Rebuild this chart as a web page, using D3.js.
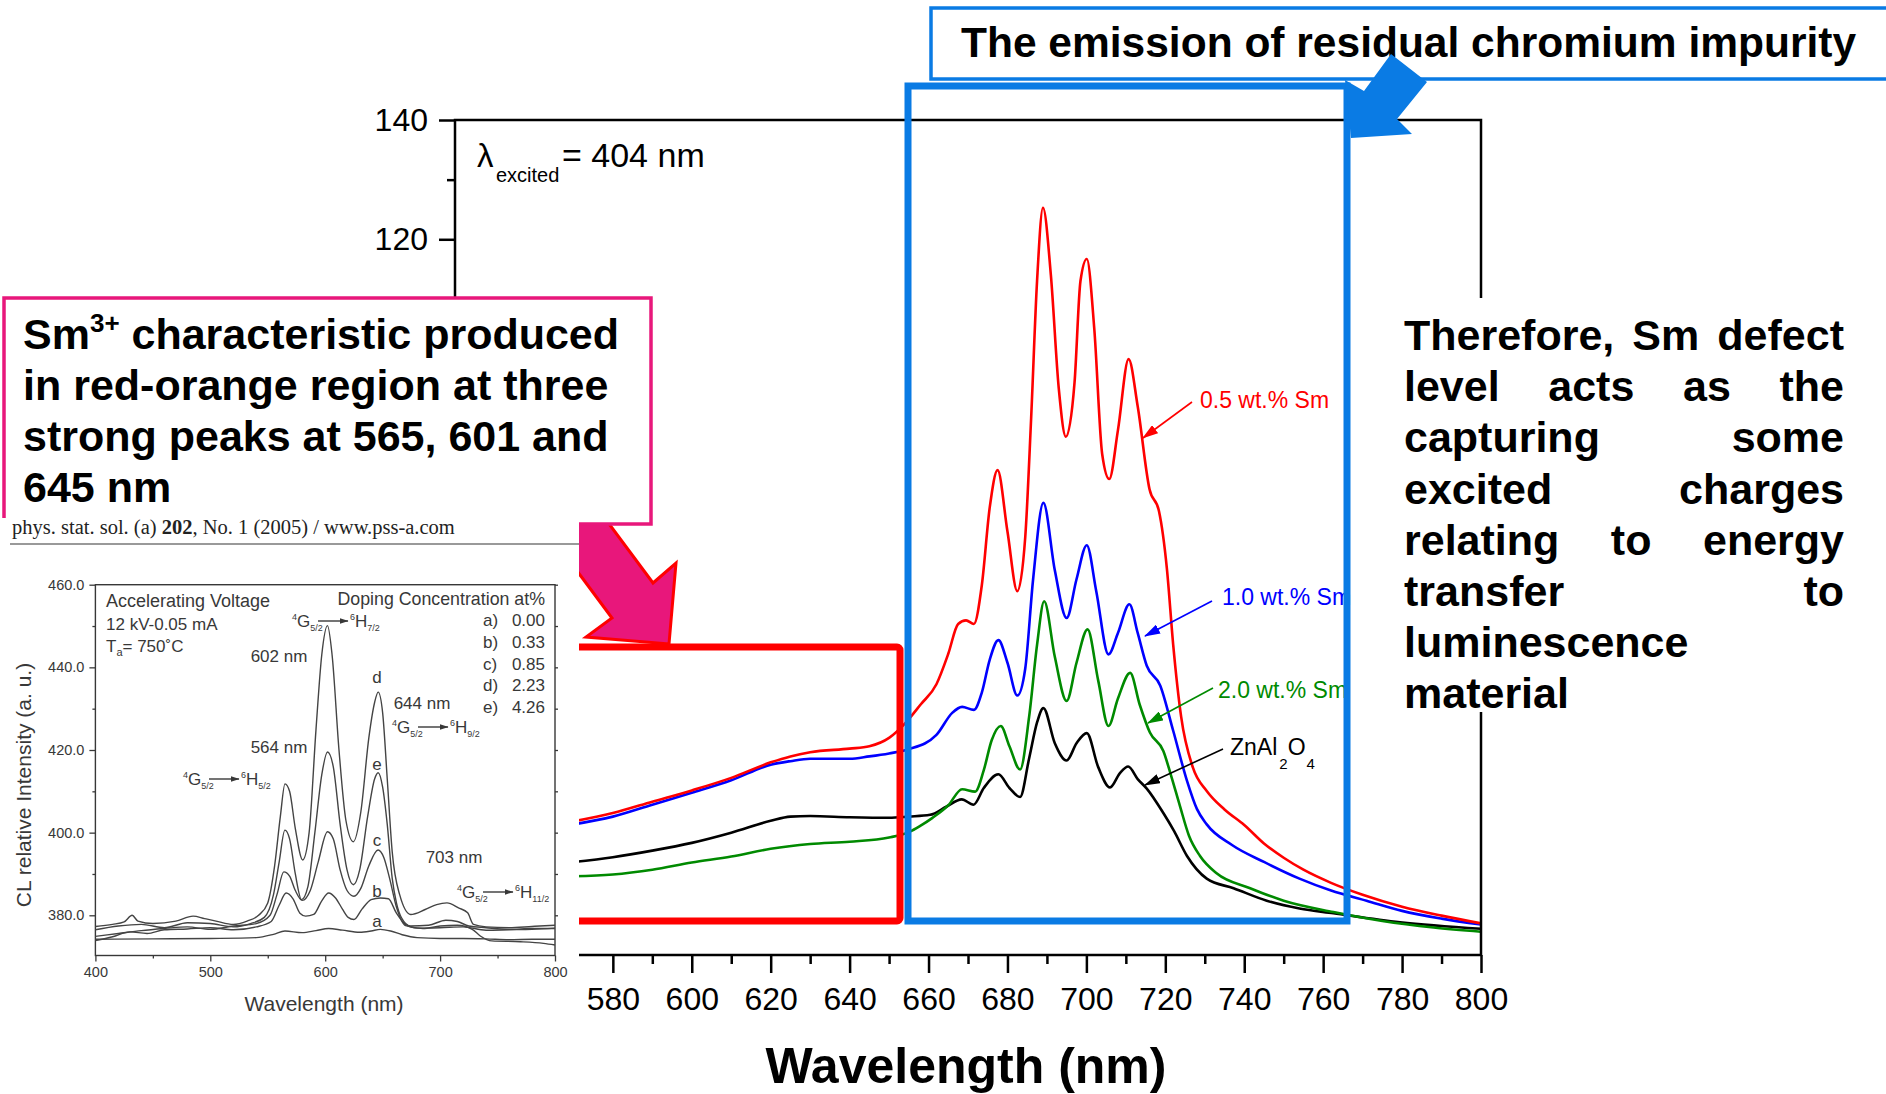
<!DOCTYPE html>
<html>
<head>
<meta charset="utf-8">
<script src="https://cdn.jsdelivr.net/npm/d3@7"></script>
<style>
  body { margin: 0; background: #fff; }
  svg { display: block; font-family: "Liberation Sans", Arial, sans-serif; }
</style>
</head>
<body>
<svg id="chart" width="1886" height="1094"></svg>
<script>
// ---- main spectrum (PL, excitation 404 nm), [wavelength nm, intensity]
const sm05 = [[570,22.4],[580,23.8],[590,25.7],[600,27.6],[610,29.7],[620,32.3],[625,33.3],[630,34.0],[640,34.6],[645,35.0],[650,36.4],[654,38.8],[658,42.0],[662,45.4],[665,50.5],[667.5,55.5],[669.5,56.1],[671.5,55.5],[673.5,62],[675.5,75],[677.5,81.3],[680,71],[682.5,61],[684.5,70],[686,90],[687.5,113],[689,125.3],[691,114],[693,95],[694.8,86.9],[697,96],[698.5,113],[700.1,116.7],[702,105],[704,84],[705.8,79.8],[708,88],[710.7,99.9],[713,92],[716,78.1],[718.4,74.4],[720.4,64.8],[722,52],[724,40],[727,31.4],[730.5,27.5],[735,24.4],[740,21.8],[745,18.7],[750,16.3],[755,14.3],[762,12.1],[770,10.1],[780,8.1],[790,6.6],[800,5.3]];
const sm10 = [[570,21.9],[580,23.2],[590,25.2],[600,27.2],[610,29.3],[620,31.9],[625,32.5],[630,32.9],[640,32.9],[645,33.3],[650,33.8],[655,34.5],[662,36.9],[666,40.6],[668.5,41.6],[671.5,41.1],[673.5,44],[675.5,49.5],[677.7,52.8],[680,49],[682.5,43.5],[684.5,48],[686.5,63],[689.1,75.8],[692,64.5],[695,56.5],[697.5,63],[700.1,68.7],[702.5,61],[705.6,50.4],[708,54],[710.9,58.8],[713,54],[715.3,48.5],[718.7,45.2],[722,37.6],[725.5,29.2],[728,24.5],[730.5,21.9],[737,18.4],[745,15.6],[754,12.8],[762,10.8],[771,9.1],[780,7.4],[790,6.1],[800,5.1]];
const sm20 = [[570,13.2],[580,13.5],[590,14.3],[600,15.5],[610,16.5],[620,17.8],[630,18.6],[640,19.0],[650,19.7],[655,20.6],[658,21.7],[661,23.0],[665,25.1],[668.5,27.8],[671.8,27.4],[674,31],[676,36],[678.3,38.4],[680.5,35],[683.2,31.1],[685.5,40],[687.5,52],[689.3,59.3],[692,50],[695,42.6],[697.5,49],[700.3,54.6],[703,46],[705.6,38.4],[708,43],[711.1,47.3],[713.5,42],[716.1,37.3],[719.5,34.2],[721.5,30],[723.7,25],[726,20],[728.8,16.6],[733,13.7],[741.5,11.2],[750,9.1],[762.6,7.2],[775,5.7],[788,4.6],[800,3.9]];
const znal = [[570,15.6],[580,16.4],[590,17.5],[600,18.8],[610,20.5],[620,22.5],[625,23.2],[630,23.3],[640,23.1],[650,23.0],[655,23.2],[660.4,23.5],[664.6,24.9],[668.4,26.1],[671.4,25.2],[674,28],[677.7,30.3],[680.5,28],[683.2,26.5],[685.5,33],[687.5,39],[689.1,41.4],[692,35.5],[695,32.6],[697.5,35.5],[700.1,37.2],[703,31.5],[706,28.1],[708.5,30.5],[710.6,31.6],[713,29.5],[715.3,27.9],[719.5,23.8],[722.2,20.8],[725.5,16.6],[730.5,12.8],[737.3,11.2],[745.7,9.1],[754,7.8],[762.6,7.0],[779.5,5.5],[800,4.4]];

const mainXTicks = [540,560,580,600,620,640,660,680,700,720,740,760,780,800];
const mainXMinor = [550,570,590,610,630,650,670,690,710,730,750,770,790];
const mainYTicks = [0,20,40,60,80,100,120,140];
const mainYMinor = [10,30,50,70,90,110,130];

// ---- inset (CL spectra, pss-a 2005), [wavelength nm, intensity]
const clA = [[400,374.2],[450,374.3],[500,374.4],[540,374.6],[555,375.4],[565,376.2],[580,375.8],[592,376.3],[603,376.8],[615,376.4],[630,375.9],[640,376.2],[648,376.6],[657,376.2],[667,375.3],[680,374.6],[700,374.4],[720,374.4],[740,374.3],[760,374.1],[780,374.2],[800,374.2]];
const clB = [[400,373.9],[415,374.8],[430,376.0],[445,375.6],[460,376.5],[480,376.7],[500,377.0],[520,376.5],[540,377.2],[553,378.5],[560,382.5],[566,385.4],[572,384],[578,380.5],[583,379.8],[590,380.2],[597,383.5],[603,385.4],[609,384.2],[615,381.5],[620,379.5],[625,379.0],[632,381.5],[640,383.8],[648,384.2],[655,384.0],[662,380.5],[670,377.8],[680,376.9],[700,377.0],[720,377.2],[740,376.4],[760,376.5],[780,376.6],[800,376.9]];
const clC = [[400,374.9],[420,375.6],[440,376.3],[460,376.8],[480,377.2],[500,376.6],[520,377.4],[540,378.0],[552,380.0],[558,385],[564,390.5],[569,389.5],[574,386],[580,383.6],[587,386],[594,393],[602,400.2],[607,398.5],[613,391],[619,386],[625,384.6],[631,386.5],[638,392],[646,395.8],[651,394],[656,389],[662,382],[670,377.5],[685,376.8],[700,377.4],[715,377.6],[728,376.6],[735,375],[745,373.8],[770,373.6],[790,373.2],[800,372.8]];
const clD = [[400,377.3],[415,377.8],[425,378.4],[432,380.0],[437,378.6],[450,378.0],[470,378.6],[485,379.8],[495,379.2],[505,378.6],[520,377.8],[532,378.6],[542,380.0],[550,383.0],[556,392],[561,404],[565,411.8],[569,410],[574,401],[580.4,393.4],[586,400],[592,425],[597,443],[602,450.1],[606,443],[612,420],[618,403],[624.5,397.8],[631,405],[638,423],[643,431.5],[646.1,434.0],[650,429],[654,413],[658.3,395.4],[664.8,385],[674.4,380.2],[687,381.4],[697,382.6],[706,383],[716,381.8],[724,380.6],[729,377.8],[740,377.2],[760,377.0],[780,377.3],[800,377.6]];
const clE = [[400,376.5],[420,377.4],[440,377.8],[460,377.0],[480,378.2],[500,378.0],[520,377.2],[535,378.0],[547,379.5],[555,385],[560,393],[564.9,400.6],[569,398.5],[574,390],[579.4,383.8],[585,387],[591,400],[597,414],[602,419.5],[607,416],[613,402],[619,391],[624.5,387.4],[630,391],[637,404],[643,413],[646.1,414.5],[650,411],[654,402],[658.3,389],[662,383],[666.4,379.4],[674.4,377.4],[690,377.6],[705,378.8],[715,378.5],[725,377.4],[740,377.0],[760,376.6],[780,376.8],[800,376.8]];

const insetXTicks = [400,500,600,700,800];
const insetXMinor = [450,550,650,750];
const insetYTicks = [380,400,420,440,460];
const insetYMinor = [390,410,430,450];
const dopingLetters = ['a)','b)','c)','d)','e)'];
const dopingValues = ['0.00','0.33','0.85','2.23','4.26'];

const BLUE = '#0a7be4', PINK = '#e8177b';
const svg = d3.select('#chart');
svg.append('rect').attr('width', 1886).attr('height', 1094).attr('fill', '#fff');

// ================= main chart =================
const x = d3.scaleLinear([540, 800], [455, 1481]);
const y = d3.scaleLinear([0, 140], [955, 120]);

const series = [
  { data: znal, color: '#000000' },
  { data: sm20, color: '#008a00' },
  { data: sm10, color: '#0000ff' },
  { data: sm05, color: '#ff0000' }
];
const line = d3.line().x(d => x(d[0])).y(d => y(d[1])).curve(d3.curveMonotoneX);
const main = svg.append('g');
main.selectAll('path.curve').data(series).join('path')
  .attr('class', 'curve').attr('d', d => line(d.data))
  .attr('fill', 'none').attr('stroke', d => d.color).attr('stroke-width', 2.6);

// axes
const xa = main.append('g').attr('transform', `translate(0,${y(0)})`)
  .call(d3.axisBottom(x).tickValues(mainXTicks).tickSize(18).tickPadding(14).tickFormat(d3.format('d')));
main.append('g').attr('transform', `translate(0,${y(0)})`)
  .call(d3.axisBottom(x).tickValues(mainXMinor).tickSize(9).tickFormat(''));
const ya = main.append('g').attr('transform', `translate(${x(540)},0)`)
  .call(d3.axisLeft(y).tickValues(mainYTicks).tickSize(16).tickPadding(11).tickFormat(d3.format('d')));
main.append('g').attr('transform', `translate(${x(540)},0)`)
  .call(d3.axisLeft(y).tickValues(mainYMinor).tickSize(8).tickFormat(''));
main.selectAll('.domain').remove();
main.selectAll('.tick line').attr('stroke', '#000').attr('stroke-width', 2.5);
main.selectAll('.tick text').attr('fill', '#000');
[xa, ya].forEach(a => a.attr('font-size', 32).attr('font-family', null));

main.append('path')
  .attr('d', `M${x(540)},${y(140)}H${x(800)}V${y(0)}H${x(540)}Z`)
  .attr('fill', 'none').attr('stroke', '#000').attr('stroke-width', 2.5);

main.append('text').attr('x', 966).attr('y', 1083).attr('text-anchor', 'middle')
  .attr('font-size', 50).attr('font-weight', 'bold').text('Wavelength (nm)');

const lam = main.append('g');
lam.append('text').attr('x', 477).attr('y', 167).attr('font-size', 33).text('λ');
lam.append('text').attr('x', 496).attr('y', 182).attr('font-size', 20).text('excited');
lam.append('text').attr('x', 562).attr('y', 167).attr('font-size', 34).text('= 404 nm');

// series labels with arrows
const defs = svg.append('defs');
function marker(id, color) {
  defs.append('marker').attr('id', id).attr('viewBox', '0 0 16 10')
    .attr('refX', 15).attr('refY', 5).attr('markerWidth', 16).attr('markerHeight', 10)
    .attr('markerUnits', 'userSpaceOnUse').attr('orient', 'auto')
    .append('path').attr('d', 'M0,0L16,5L0,10Z').attr('fill', color);
}
const callouts = [
  { id: 'm05', color: '#ff0000', tx: 1200, ty: 408, from: [1192, 402], to: [1143, 438], text: '0.5 wt.% Sm' },
  { id: 'm10', color: '#0000ff', tx: 1222, ty: 605, from: [1212, 601], to: [1145, 636], text: '1.0 wt.% Sm' },
  { id: 'm20', color: '#008a00', tx: 1218, ty: 698, from: [1213, 688], to: [1148, 723], text: '2.0 wt.% Sm' },
  { id: 'mzn', color: '#000000', tx: 1230, ty: 755, from: [1223, 749], to: [1145, 785], text: null }
];
callouts.forEach(c => {
  marker(c.id, c.color);
  main.append('line').attr('x1', c.from[0]).attr('y1', c.from[1]).attr('x2', c.to[0]).attr('y2', c.to[1])
    .attr('stroke', c.color).attr('stroke-width', 1.6).attr('marker-end', `url(#${c.id})`);
  const t = main.append('text').attr('x', c.tx).attr('y', c.ty).attr('font-size', 23).attr('fill', c.color);
  if (c.text) t.text(c.text);
  else {
    t.append('tspan').text('ZnAl');
    t.append('tspan').attr('dx', 2).attr('dy', 14).attr('font-size', 15).text('2');
    t.append('tspan').attr('dy', -14).text('O');
    t.append('tspan').attr('dx', 1).attr('dy', 14).attr('font-size', 15).text('4');
  }
});

// ================= highlight boxes =================
svg.append('rect').attr('x', 540).attr('y', 647).attr('width', 360).attr('height', 274).attr('rx', 3)
  .attr('fill', 'none').attr('stroke', '#ff0000').attr('stroke-width', 7);
svg.append('rect').attr('x', 908).attr('y', 86).attr('width', 439).attr('height', 835)
  .attr('fill', 'none').attr('stroke', BLUE).attr('stroke-width', 7);

// right explanation text (justified)
svg.append('rect').attr('x', 1352).attr('y', 298).attr('width', 540).attr('height', 414).attr('fill', '#fff');
const rightLines = ['Therefore, Sm defect', 'level acts as the', 'capturing some', 'excited charges',
  'relating to energy', 'transfer to', 'luminescence', 'material'];
const rg = svg.append('g').attr('font-size', 43).attr('font-weight', 'bold');
rightLines.forEach((ln, i) => {
  const words = ln.split(' ');
  const yy = 350 + i * 51.2;
  const els = words.map(w => rg.append('text').attr('y', yy).text(w));
  const widths = els.map(e => e.node().getComputedTextLength());
  const gap = words.length > 1 ? (1844 - 1404 - d3.sum(widths)) / (words.length - 1) : 0;
  let xx = 1404;
  els.forEach((e, k) => { e.attr('x', xx); xx += widths[k] + gap; });
});

// pink arrow + box
svg.append('polygon')
  .attr('points', '575,478 653,583 676,563 669,644 586,637 612,618 534,513')
  .attr('fill', PINK).attr('stroke', '#ff0000').attr('stroke-width', 3).attr('stroke-linejoin', 'miter');
svg.append('rect').attr('x', 4).attr('y', 298).attr('width', 647).attr('height', 226)
  .attr('fill', '#fff').attr('stroke', PINK).attr('stroke-width', 3.5);
const pg = svg.append('g').attr('font-size', 43).attr('font-weight', 'bold');
const p1 = pg.append('text').attr('x', 23).attr('y', 349);
p1.append('tspan').text('Sm');
p1.append('tspan').attr('dy', -17).attr('font-size', 26).text('3+');
p1.append('tspan').attr('dy', 17).text(' characteristic produced');
['in red-orange region at three', 'strong peaks at 565, 601 and', '645 nm'].forEach((t, i) =>
  pg.append('text').attr('x', 23).attr('y', 400 + i * 51.2).text(t));

// ================= inset figure =================
const inset = svg.append('g');
inset.append('rect').attr('x', 0).attr('y', 518).attr('width', 579).attr('height', 532).attr('fill', '#fff');
const hdr = inset.append('text').attr('x', 12).attr('y', 534)
  .attr('font-family', '"Liberation Serif", "Times New Roman", serif').attr('font-size', 20.5).attr('fill', '#222');
hdr.append('tspan').text('phys. stat. sol. (a) ');
hdr.append('tspan').attr('font-weight', 'bold').text('202');
hdr.append('tspan').text(', No. 1 (2005) / www.pss-a.com');
inset.append('line').attr('x1', 10).attr('x2', 579).attr('y1', 544).attr('y2', 544)
  .attr('stroke', '#777').attr('stroke-width', 1.6);

const ix = d3.scaleLinear([400, 800], [95.4, 555]);
const iy = d3.scaleLinear([380, 460], [915.3, 584.7]);
const iBottom = 955.5;
const INK = '#383838';

const ixa = inset.append('g').attr('transform', `translate(0,${iBottom})`)
  .call(d3.axisBottom(ix).tickValues(insetXTicks).tickSize(6).tickPadding(5).tickFormat(d3.format('d')));
inset.append('g').attr('transform', `translate(0,${iBottom})`)
  .call(d3.axisBottom(ix).tickValues(insetXMinor).tickSize(3).tickFormat(''));
const iya = inset.append('g').attr('transform', `translate(${ix(400)},0)`)
  .call(d3.axisLeft(iy).tickValues(insetYTicks).tickSize(6).tickPadding(5).tickFormat(d3.format('.1f')));
inset.append('g').attr('transform', `translate(${ix(400)},0)`)
  .call(d3.axisLeft(iy).tickValues(insetYMinor).tickSize(3).tickFormat(''));
inset.append('g').attr('transform', `translate(${ix(800)},0)`)
  .call(d3.axisRight(iy).tickValues(insetYTicks.concat(insetYMinor)).tickSize(3).tickFormat(''));
inset.selectAll('.domain').remove();
inset.selectAll('.tick line').attr('stroke', INK).attr('stroke-width', 1.3);
inset.selectAll('.tick text').attr('fill', INK);
[ixa, iya].forEach(a => a.attr('font-size', 14.5).attr('font-family', null));
inset.append('rect').attr('x', ix(400)).attr('y', iy(460)).attr('width', ix(800) - ix(400))
  .attr('height', iBottom - iy(460)).attr('fill', 'none').attr('stroke', INK).attr('stroke-width', 1.4);

const iline = d3.line().x(d => ix(d[0])).y(d => iy(d[1])).curve(d3.curveMonotoneX);
inset.selectAll('path.cl').data([clA, clB, clC, clD, clE]).join('path')
  .attr('class', 'cl').attr('d', iline).attr('fill', 'none')
  .attr('stroke', '#444').attr('stroke-width', 1.4);

inset.append('text').attr('x', 324).attr('y', 1011).attr('text-anchor', 'middle')
  .attr('font-size', 21).attr('fill', INK).text('Wavelength (nm)');
inset.append('text').attr('transform', 'translate(31,785) rotate(-90)').attr('text-anchor', 'middle')
  .attr('font-size', 21).attr('fill', INK).text('CL relative Intensity (a. u.)');

const it = inset.append('g').attr('font-size', 17).attr('fill', INK);
it.append('text').attr('x', 106).attr('y', 607).attr('font-size', 18).text('Accelerating Voltage');
it.append('text').attr('x', 106).attr('y', 630).text('12 kV-0.05 mA');
const ta = it.append('text').attr('x', 106).attr('y', 652);
ta.append('tspan').text('T');
ta.append('tspan').attr('dy', 4).attr('font-size', 11).text('a');
ta.append('tspan').attr('dy', -4).text('= 750˚C');
it.append('text').attr('x', 545).attr('y', 605).attr('text-anchor', 'end').attr('font-size', 17.8)
  .text('Doping Concentration at%');
dopingLetters.forEach((l, i) => {
  const yy = 626 + i * 21.8;
  it.append('text').attr('x', 483).attr('y', yy).text(l);
  it.append('text').attr('x', 545).attr('y', yy).attr('text-anchor', 'end').text(dopingValues[i]);
});
[['602 nm', 279, 662], ['564 nm', 279, 753], ['644 nm', 422, 709], ['703 nm', 454, 863],
 ['d', 377, 683], ['e', 377, 770], ['c', 377, 846], ['b', 377, 897], ['a', 377, 927]]
  .forEach(([t, xx, yy]) => it.append('text').attr('x', xx).attr('y', yy).attr('text-anchor', 'middle').text(t));

marker('mtr', INK);
function transition(x0, yb, sub) {
  const a = it.append('text').attr('x', x0).attr('y', yb);
  a.append('tspan').attr('dy', -7).attr('font-size', 9).text('4');
  a.append('tspan').attr('dy', 7).text('G');
  a.append('tspan').attr('dy', 4).attr('font-size', 9).text('5/2');
  it.append('line').attr('x1', x0 + 26).attr('x2', x0 + 56).attr('y1', yb - 6).attr('y2', yb - 6)
    .attr('stroke', INK).attr('stroke-width', 1.4).attr('marker-end', 'url(#mtr)');
  const b = it.append('text').attr('x', x0 + 58).attr('y', yb);
  b.append('tspan').attr('dy', -7).attr('font-size', 9).text('6');
  b.append('tspan').attr('dy', 7).text('H');
  b.append('tspan').attr('dy', 4).attr('font-size', 9).text(sub);
}
d3.select('#mtr').attr('markerWidth', 9).attr('markerHeight', 6);
transition(292, 627, '7/2');
transition(183, 785, '5/2');
transition(392, 733, '9/2');
transition(457, 898, '11/2');

// ================= top callout =================
svg.append('rect').attr('x', 931).attr('y', 8).attr('width', 970).attr('height', 71)
  .attr('fill', '#fff').attr('stroke', BLUE).attr('stroke-width', 3.5);
svg.append('text').attr('x', 961).attr('y', 57).attr('font-size', 42.5).attr('font-weight', 'bold')
  .text('The emission of residual chromium impurity');
svg.append('polygon')
  .attr('points', '1391,54 1427,82 1397,119 1412,134 1351,138 1345,80 1364,91')
  .attr('fill', BLUE);
</script>
</body>
</html>
